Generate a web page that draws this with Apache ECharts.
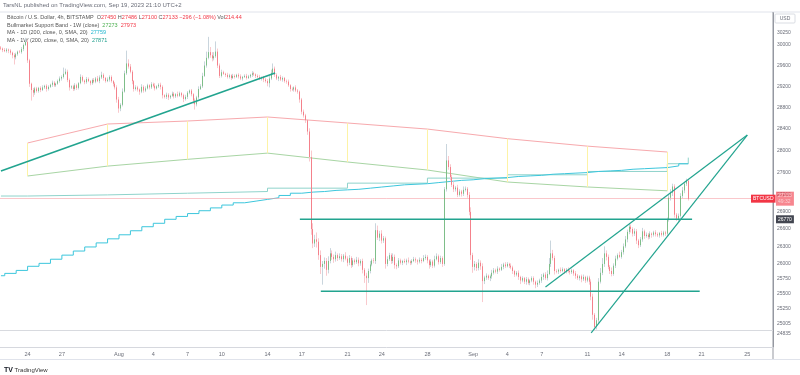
<!DOCTYPE html>
<html><head><meta charset="utf-8">
<script src="https://cdn.jsdelivr.net/npm/echarts@6/dist/echarts.min.js"></script>
<style>html,body{margin:0;padding:0;background:#fff}#c{width:800px;height:375px}</style>
</head><body><div id="c"></div>
<script>
// ---------- DATA ----------
const priceTicks = [30250,30000,29600,29200,28800,28400,28000,27600,27200,26900,26600,26300,26000,25750,25500,25250,25005,24835];
const xTickKeys = ['07-24','07-27','08-01','08-04','08-07','08-10','08-14','08-17','08-21','08-24','08-28','09-01','09-04','09-07','09-11','09-14','09-18','09-21','09-25'];
const xTickText = ['24','27','Aug','4','7','10','14','17','21','24','28','Sep','4','7','11','14','18','21','25'];

const firstOpen = 29950;
const closes = [
29930,29900,29880,29910,29890,29850,29800,29760,29820,29870,
29860,29920,30000,30060,29700,29250,29130,29080,29160,29110,
29170,29130,29180,29210,29150,29190,29230,29270,29220,29250,
29300,29350,29380,29440,29480,29320,29180,29200,29150,29220,
29170,29260,29380,29310,29280,29340,29300,29260,29320,29290,
29350,29300,29370,29420,29360,29300,29330,29380,29300,29250,
29180,28950,28780,28850,29100,29450,29640,29580,29480,29300,
29150,29180,29140,29100,29190,29120,29160,29220,29180,29240,
29210,29160,29200,29230,29190,29030,29000,29040,28990,29020,
29060,29010,29050,29020,29070,29030,28960,29000,29080,29120,
29050,28930,28860,28990,29150,29200,29400,29600,29750,29860,
29800,29740,29780,29870,29600,29400,29470,29440,29420,29380,
29410,29360,29400,29380,29420,29390,29350,29380,29400,29360,
29390,29420,29450,29430,29400,29380,29350,29370,29330,29300,
29260,29350,29460,29540,29420,29350,29380,29330,29360,29300,
29290,29220,29150,29140,29180,29120,29100,28950,28720,28650,
28560,28350,27880,26600,26350,26420,26380,26150,25950,26000,
26050,25900,26050,26180,26120,26080,26150,26100,26130,26080,
26140,26090,26020,26100,25980,26060,26030,26070,26010,26050,
25900,25800,25760,25880,25990,26060,26050,26580,26450,26520,
26400,26440,26000,26080,26150,26050,26120,25980,25960,26060,
26020,26050,26030,26060,26040,26020,26050,26080,26060,26040,
26070,26050,26100,26120,26060,25980,26040,25970,26080,26130,
26030,26100,26000,27300,27820,27700,27520,27380,27300,27330,
27200,27260,27220,27290,27310,27200,26900,26150,25950,26000,
25930,26020,25960,25710,25770,25800,25760,25790,25850,25890,
25870,25920,25900,25950,25990,25960,26000,25970,25940,25880,
25820,25850,25780,25720,25760,25700,25740,25680,25720,25760,
25700,25650,25680,25720,25780,25820,25760,25830,26000,26180,
26100,25880,25870,25900,25880,25910,25870,25900,25880,25860,
25890,25840,25800,25760,25790,25740,25780,25720,25770,25700,
25450,25150,24950,25060,25700,25850,26000,26180,26120,25950,
25880,25830,25970,26090,26150,26120,26200,26300,26420,26550,
26640,26600,26520,26560,26400,26320,26420,26560,26480,26500,
26460,26520,26500,26540,26510,26490,26530,26500,26540,26520,
26760,27150,27240,27350,26850,26780,26830,27180,27280,27400,
27450,27133];
// wick lengths above / below the body, in tens of USD
const upW = [
3,2,4,3,2,3,2,4,3,2, 3,4,3,8,4,3,2,4,3,3, 2,3,4,2,3,3,2,4,3,2, 3,4,3,12,6,4,3,2,3,4,
3,2,5,3,2,4,3,2,3,4, 3,5,4,6,3,2,4,3,3,2, 3,4,5,3,6,5,25,8,5,3, 2,4,3,2,5,3,4,3,2,4,
3,5,2,3,4,3,2,4,3,2, 4,3,2,5,3,2,3,4,3,2, 3,2,4,3,5,4,6,8,12,30, 10,6,8,20,6,4,5,3,2,4,
3,2,4,3,2,3,4,2,3,4, 3,2,4,3,2,3,4,2,3,3, 4,5,6,10,4,3,2,4,3,2, 3,4,2,3,2,4,3,2,3,4,
3,2,6,12,10,8,12,6,8,5, 6,5,8,9,5,4,6,3,5,4, 3,6,4,5,3,4,3,5,4,3, 4,3,5,4,6,3,4,12,8,5,
6,4,3,5,4,3,6,4,3,4, 3,2,4,3,5,2,3,4,3,2, 4,3,5,4,3,2,4,3,6,5, 3,4,3,4,30,8,5,4,6,3,
5,4,3,6,4,3,5,8,4,5, 3,6,4,5,3,4,2,3,5,4, 3,4,2,5,3,4,3,2,4,3, 2,3,4,2,3,2,4,3,2,3,
3,2,4,3,5,3,4,6,10,22, 6,4,3,2,4,3,2,3,4,2, 3,2,4,3,2,3,4,2,3,3, 4,5,3,4,6,8,10,12,5,4,
3,6,4,5,3,6,4,5,6,4, 6,4,3,5,4,3,4,6,3,4, 3,4,2,3,4,3,2,4,3,3, 4,5,6,5,4,3,4,5,6,3,
4,3.6];
const dnW = [
3,4,2,3,5,4,6,14,4,3, 2,3,4,2,5,6,20,8,4,3, 3,4,2,3,5,3,2,4,3,3, 2,3,4,3,2,4,6,3,4,3,
4,3,2,3,4,3,2,4,3,3, 3,2,4,3,5,3,2,4,3,5, 4,6,8,5,3,2,3,4,3,6, 5,3,4,6,3,4,3,2,4,3,
3,4,2,3,5,6,3,4,5,3, 2,4,3,3,2,4,6,3,4,3, 4,6,10,4,3,2,3,2,4,3, 5,6,4,3,5,4,3,2,4,3,
3,4,2,3,2,4,3,4,2,3, 2,3,4,3,4,2,3,4,5,3, 6,8,3,2,4,3,5,3,4,3, 4,3,5,3,4,3,4,6,5,4,
5,6,8,10,8,6,10,8,12,30, 8,10,6,4,5,6,4,5,3,4, 5,3,6,4,5,3,4,3,5,4, 6,12,45,8,4,3,4,5,4,6,
5,4,8,4,3,5,4,6,5,3, 3,4,2,5,3,4,3,2,4,5, 3,4,2,3,5,6,3,4,3,2, 4,3,5,3,4,5,6,4,5,4,
4,3,5,4,3,5,6,8,10,6, 5,4,6,35,5,4,3,5,4,3, 3,4,3,2,4,3,2,4,3,5, 4,3,5,6,3,4,5,3,4,3,
5,6,4,3,4,5,3,4,2,5, 4,6,3,4,3,2,4,3,3,4, 3,4,5,3,4,5,3,4,3,5, 6,8,5,4,5,3,4,5,6,4,
5,4,3,4,3,2,3,4,3,5, 4,6,5,4,6,5,3,4,5,3, 4,3,5,3,4,3,4,3,3,4, 4,3,5,6,5,4,6,3,4,5,
4,3.3];

// Bullmarket Support Band (weekly points)
const bandWeekIdx = [14,56,98,140,182,224,266,308,350];
const bandUpper = [28139,28490,28546,28621,28509,28396,28218,28081,27973];
const bandLower = [27538,27717,27840,27953,27791,27646,27430,27341,27273];

// MA 1D (200) daily values, Jul 21 .. Sep 19
const ma1dDayIdx0 = 2; // Jul 22 00:00 bar
const ma1d = [25800,25840,25890,25960,26010,26080,26150,26220,26290,26360,26430,
26500,26570,26640,26700,26770,26820,26870,26920,26970,27020,27060,27090,27120,27150,27190,27230,
27250,27260,27280,27290,27300,27320,27340,27360,27380,27390,27400,27420,27440,27460,27470,
27490,27500,27510,27530,27540,27550,27570,27580,27590,27600,27620,27630,27640,27660,27670,27680,27690,27720,27759];
// MA 1W (200) weekly values
const ma1wIdx = [0,14,56,98,140,182,224,266,308,350,361];
const ma1w = [27180,27200,27230,27260,27320,27410,27500,27560,27620,27760,27871];

// drawings: [barIndex, price]
const trendA = [[0,27629],[144,29456]];
const wedgeUp = [[286,25611],[392,28286]];
const wedgeLo = [[310,24853],[392,28286]];
const hUpper = [[157,26770],[363,26770]];
const hLower = [[168,25540],[367,25540]];
const lowLine = 24890;

// ---------- BUILD ----------
const N = 406;
const t0 = Date.UTC(2023,6,21,16);
const pad = n => (n<10?'0':'')+n;
const cats = [];
for (let i=0;i<N;i++){const d=new Date(t0+i*4*3600e3);cats.push(pad(d.getUTCMonth()+1)+'-'+pad(d.getUTCDate())+' '+pad(d.getUTCHours())+':00');}
const tickMap = {};
xTickKeys.forEach((k,j)=>{tickMap[k+' 00:00']=xTickText[j];});

const wickData=[], bodyData=[];
for (let i=0;i<closes.length;i++){
  const o = i===0?firstOpen:closes[i-1], c=closes[i];
  const hi=Math.max(o,c)+upW[i]*10, lo=Math.min(o,c)-dnW[i]*10;
  wickData.push([o,c,lo,hi]);
  bodyData.push([o,c,Math.min(o,c),Math.max(o,c)]);
}
const lastClose = closes[closes.length-1];
const P = arr => arr.map(p=>[cats[p[0]],p[1]]);
const maD = [[cats[0],ma1d[0]]];
for (let d=1; d<ma1d.length; d++) maD.push([cats[ma1dDayIdx0+(d-1)*6], ma1d[d]]);
maD.push([cats[closes.length-1], ma1d[ma1d.length-1]]);
const maW = ma1wIdx.map((ix,k)=>[cats[ix],ma1w[k]]);
const teal = '#22a48f';
const FONT = 'Liberation Sans, Arial, sans-serif';
const lineS = (data,color,w,z,extra) => Object.assign({type:'line',data,symbol:'none',silent:true,z,lineStyle:{color,width:w},animation:false},extra||{});
const tagLabel = (text,bg,pos,dist) => ({show:true,position:pos,distance:dist,formatter:()=>text,backgroundColor:bg,color:'#fff',fontSize:5,padding:[1,2],lineHeight:6,fontFamily:FONT});

const yMin = 24626, yMax = 30634;
const option = {
  animation:false,
  backgroundColor:'#ffffff',
  grid:{left:0,right:27,top:13,bottom:28,containLabel:false},
  xAxis:{type:'category',data:cats,boundaryGap:true,
    axisLine:{show:true,lineStyle:{color:'#d6d8de'}},axisTick:{show:false},splitLine:{show:false},
    axisLabel:{interval:(i,v)=>tickMap[v]!==undefined,formatter:v=>tickMap[v]||'',fontSize:5.5,color:'#6a6d78',margin:4,fontFamily:FONT}},
  yAxis:{type:'log',logBase:10,min:yMin,max:yMax,position:'right',
    axisLine:{show:true,lineStyle:{color:'#9598a1'}},axisTick:{show:false},splitLine:{show:false},
    axisLabel:{customValues:priceTicks,formatter:v=>String(Math.round(v)),fontSize:5,color:'#6a6d78',margin:4,fontFamily:FONT}},
  series:[
    lineS(P(bandWeekIdx.map((ix,k)=>[ix,bandUpper[k]])),'#f7a9ad',1,2,{markLine:{silent:true,symbol:'none',animation:false,
      lineStyle:{color:'#fdf3a6',width:1,type:'solid'},label:{show:false},
      data:bandWeekIdx.map((ix,k)=>[{coord:[cats[ix],bandUpper[k]]},{coord:[cats[ix],bandLower[k]]}])}}),
    lineS(P(bandWeekIdx.map((ix,k)=>[ix,bandLower[k]])),'#a8d5a4',1,2),
    lineS(maW,'#8fd3cb',1,3,{step:'end'}),
    lineS(maD,'#3cc6dc',1,3,{step:'end'}),
    {type:'candlestick',data:wickData,barWidth:1,z:4,silent:true,animation:false,
      itemStyle:{color:'#c9d5dd',color0:'#f9c9cd',borderColor:'#c9d5dd',borderColor0:'#f9c9cd',borderWidth:1}},
    {type:'candlestick',data:bodyData,barWidth:1.3,z:5,silent:true,animation:false,
      itemStyle:{color:'#4caf50',color0:'#f0505e',borderColor:'#4caf50',borderColor0:'#f0505e',borderWidth:0.6},
      markLine:{silent:true,symbol:'none',animation:false,data:[
        {yAxis:lowLine,lineStyle:{color:'#d8dadf',width:1,type:'solid'},label:{show:false}},
        {yAxis:lastClose,lineStyle:{color:'#f7a1a8',width:1,type:'solid',opacity:0.6},
          label:tagLabel(lastClose+'\n49:32','#f23645','end',3)},
        {yAxis:lastClose,lineStyle:{color:'rgba(0,0,0,0)',width:0},
          label:tagLabel('BTCUSD','#f23645','end',-22)},
        {yAxis:hUpper[0][1],lineStyle:{color:'rgba(0,0,0,0)',width:0},
          label:tagLabel(String(hUpper[0][1]),'#434651','end',3)}
      ]}},
    lineS(P(trendA),teal,1.6,8),
    lineS(P(wedgeUp),teal,1.2,8),
    lineS(P(wedgeLo),teal,1.2,8),
    lineS(P(hUpper),teal,1.6,8),
    lineS(P(hLower),teal,1.6,8)
  ],
  graphic:[
    {type:'text',left:3,top:2,silent:true,style:{text:'TarsNL published on TradingView.com, Sep 19, 2023 21:10 UTC+2',fontSize:6,fill:'#6a6d78',fontFamily:FONT}},
    {type:'line',silent:true,shape:{x1:0,y1:12,x2:800,y2:12},style:{stroke:'#e0e3eb',lineWidth:1}},
    {type:'line',silent:true,shape:{x1:773,y1:12,x2:773,y2:360},style:{stroke:'#9598a1',lineWidth:1}},
    {type:'line',silent:true,shape:{x1:0,y1:359.5,x2:800,y2:359.5},style:{stroke:'#e0e3eb',lineWidth:1}},
    {type:'rect',silent:true,shape:{x:775,y:14,width:20,height:9,r:1},style:{fill:'#fff',stroke:'#d1d4dc',lineWidth:0.8}},
    {type:'text',silent:true,x:785,y:18.5,style:{text:'USD',fontSize:5,fill:'#6a6d78',align:'center',verticalAlign:'middle',fontFamily:FONT}},
    {type:'text',silent:true,x:7,y:17.5,style:{text:'Bitcoin / U.S. Dollar, 4h, BITSTAMP  O{r|27450} H{r|27486} L{r|27100} C{r|27133} {r|−296 (−1.08%)} Vol{r|214.44}',
      fontSize:5.5,fill:'#555',verticalAlign:'middle',fontFamily:FONT,rich:{r:{fill:'#f23645',fontSize:5.5,fontFamily:FONT}}}},
    {type:'text',silent:true,x:7,y:25.2,style:{text:'Bullmarket Support Band - 1W (close)  {g|27273}  {r|27973}',
      fontSize:5.5,fill:'#555',verticalAlign:'middle',fontFamily:FONT,rich:{r:{fill:'#f23645',fontSize:5.5,fontFamily:FONT},g:{fill:'#4caf50',fontSize:5.5,fontFamily:FONT}}}},
    {type:'text',silent:true,x:7,y:32.8,style:{text:'MA - 1D (200, close, 0, SMA, 20)  {c|27759}',
      fontSize:5.5,fill:'#555',verticalAlign:'middle',fontFamily:FONT,rich:{c:{fill:'#1fb6cf',fontSize:5.5,fontFamily:FONT}}}},
    {type:'text',silent:true,x:7,y:40.2,style:{text:'MA - 1W (200, close, 0, SMA, 20)  {c|27871}',
      fontSize:5.5,fill:'#555',verticalAlign:'middle',fontFamily:FONT,rich:{c:{fill:'#1e9e8c',fontSize:5.5,fontFamily:FONT}}}},
    {type:'text',silent:true,x:4,y:370,style:{text:'{b|TV} TradingView',fontSize:6,fill:'#333',verticalAlign:'middle',fontFamily:FONT,rich:{b:{fontWeight:'bold',fontSize:7,fill:'#131722',fontFamily:FONT}}}}
  ]
};
const chart = echarts.init(document.getElementById('c'),null,{renderer:'canvas'});
chart.setOption(option);
</script>
</body></html>
